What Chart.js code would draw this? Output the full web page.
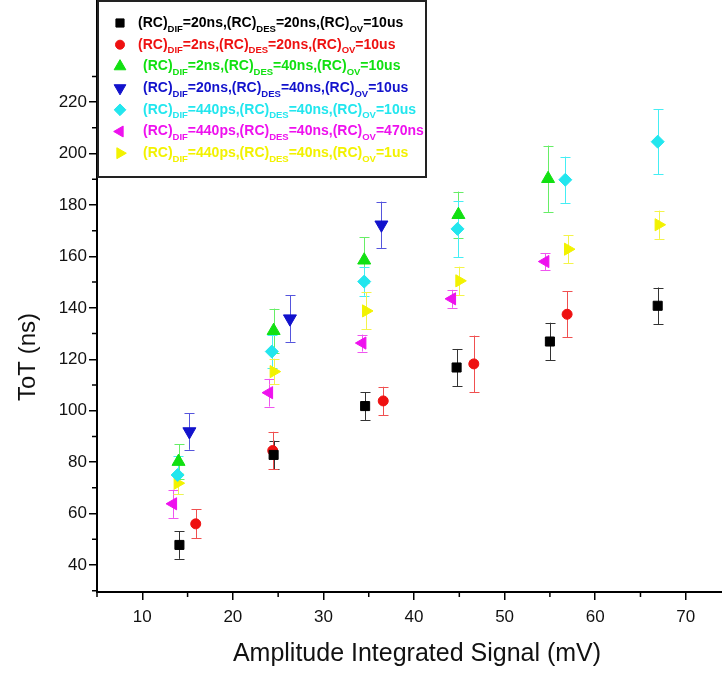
<!DOCTYPE html>
<html>
<head>
<meta charset="utf-8">
<script src="https://cdn.jsdelivr.net/npm/chart.js@4.4.1/dist/chart.umd.min.js"></script>
<style>
  html, body { margin: 0; padding: 0; background: #fff; }
  #wrap { width: 722px; height: 673px; }
</style>
</head>
<body>
<div id="wrap"><canvas id="myChart" width="722" height="673"></canvas></div>
<script>
// series data: x (mV), ToT (ns), error (+/- ns)
var blackX = [14.1, 24.5, 34.6, 44.7, 55.0, 66.9];
var blackY = [47.8, 82.8, 101.8, 116.8, 126.9, 140.8];
var blackErr = [5.4, 5.5, 5.4, 7.2, 7.3, 7.1];

var redX = [15.9, 24.4, 36.6, 46.6, 56.9];
var redY = [56.0, 84.5, 103.8, 118.2, 137.5];
var redErr = [5.6, 7.3, 5.5, 11.0, 9.0];

var greenX = [14.0, 24.5, 34.5, 44.9, 54.8];
var greenY = [80.2, 131.1, 158.5, 176.2, 190.2];
var greenErr = [6.8, 8.6, 9.0, 9.0, 12.9];

var blueX = [15.2, 26.3, 36.4];
var blueY = [91.9, 135.8, 172.3];
var blueErr = [7.1, 9.0, 9.0];

var cyanX = [13.9, 24.3, 34.5, 44.8, 56.7, 66.9];
var cyanY = [75.0, 123.0, 150.2, 170.7, 189.8, 204.6];
var cyanErr = [7.4, 6.5, 5.5, 11.0, 9.0, 12.6];

var magentaX = [13.4, 24.0, 34.3, 44.2, 54.5];
var magentaY = [63.8, 107.0, 126.3, 143.5, 158.0];
var magentaErr = [5.5, 5.4, 3.3, 3.5, 3.3];

var yellowX = [13.9, 24.5, 34.7, 45.0, 57.0, 67.0];
var yellowY = [71.8, 115.2, 138.8, 150.5, 162.8, 172.3];
var yellowErr = [4.0, 5.0, 7.2, 5.5, 5.5, 5.5];

// legend parameters
var rcDif = ['20ns', '2ns', '2ns', '20ns', '440ps', '440ps', '440ps'];
var rcDes = ['20ns', '20ns', '40ns', '40ns', '40ns', '40ns', '40ns'];
var rcOv = ['10us', '10us', '10us', '10us', '10us', '470ns', '1us'];

var xTicks = [10, 20, 30, 40, 50, 60, 70];
var xMinor = [5, 15, 25, 35, 45, 55, 65];
var yTicks = [40, 60, 80, 100, 120, 140, 160, 180, 200, 220];
var yMinor = [30, 50, 70, 90, 110, 130, 150, 170, 190, 210, 230];

var FONT = "'Liberation Sans', Arial, sans-serif";

function pts(xs, ys, es) {
    return xs.map(function (x, i) { return { x: x, y: ys[i], err: es[i] }; });
}

var series = [
    { x: blackX, y: blackY, e: blackErr, color: '#000000', bar: '#333333', style: 'rect', rot: 0, r: 6.4 },
    { x: redX, y: redY, e: redErr, color: '#ee1111', bar: '#f05050', style: 'circle', rot: 0, r: 5 },
    { x: greenX, y: greenY, e: greenErr, color: '#11e011', bar: '#66ee66', style: 'triangle', rot: 0, r: 7.5 },
    { x: blueX, y: blueY, e: blueErr, color: '#1212cc', bar: '#5555dd', style: 'triangle', rot: 180, r: 7.5 },
    { x: cyanX, y: cyanY, e: cyanErr, color: '#22e6ee', bar: '#44eef4', style: 'rectRot', rot: 0, r: 6.5 },
    { x: magentaX, y: magentaY, e: magentaErr, color: '#ee11ee', bar: '#f055f0', style: 'triangle', rot: -90, r: 7 },
    { x: yellowX, y: yellowY, e: yellowErr, color: '#f2f200', bar: '#f4f44a', style: 'triangle', rot: 90, r: 7 }
];

var datasets = series.map(function (s, i) {
    return {
        label: 'S' + (i + 1),
        data: pts(s.x, s.y, s.e),
        pointStyle: s.style,
        rotation: s.rot,
        pointRadius: s.r,
        pointHoverRadius: s.r,
        backgroundColor: s.color,
        borderColor: s.color,
        borderWidth: 1,
        showLine: false,
        errColor: s.bar
    };
});

// vertical error bars with caps, drawn through the scales
var errorBars = {
    id: 'errorBars',
    beforeDatasetsDraw: function (chart) {
        var ctx = chart.ctx, xs = chart.scales.x, ys = chart.scales.y;
        ctx.save();
        ctx.lineWidth = 1;
        chart.data.datasets.forEach(function (ds) {
            ctx.strokeStyle = ds.errColor;
            ds.data.forEach(function (p) {
                var px = Math.round(xs.getPixelForValue(p.x)) + 0.5;
                var top = ys.getPixelForValue(p.y + p.err);
                var bot = ys.getPixelForValue(p.y - p.err);
                ctx.beginPath();
                ctx.moveTo(px, top); ctx.lineTo(px, bot);
                ctx.moveTo(px - 5, Math.round(top) + 0.5); ctx.lineTo(px + 5, Math.round(top) + 0.5);
                ctx.moveTo(px - 5, Math.round(bot) + 0.5); ctx.lineTo(px + 5, Math.round(bot) + 0.5);
                ctx.stroke();
            });
        });
        ctx.restore();
    }
};

// short minor ticks and the axis titles
var axisExtras = {
    id: 'axisExtras',
    afterDraw: function (chart) {
        var ctx = chart.ctx, xs = chart.scales.x, ys = chart.scales.y, a = chart.chartArea;
        ctx.save();
        ctx.strokeStyle = '#000';
        ctx.lineWidth = 1.5;
        ctx.beginPath();
        xMinor.forEach(function (v) {
            var px = xs.getPixelForValue(v);
            ctx.moveTo(px, a.bottom); ctx.lineTo(px, a.bottom + 5);
        });
        yMinor.forEach(function (v) {
            var py = ys.getPixelForValue(v);
            ctx.moveTo(a.left, py); ctx.lineTo(a.left - 5, py);
        });
        ctx.stroke();

        ctx.fillStyle = '#111';
        ctx.textAlign = 'center';
        ctx.textBaseline = 'middle';
        ctx.font = '25px ' + FONT;
        ctx.fillText('Amplitude Integrated Signal (mV)', 417, 654);
        ctx.font = '24px ' + FONT;
        ctx.translate(28, 357);
        ctx.rotate(-Math.PI / 2);
        ctx.fillText('ToT (ns)', 0, 0);
        ctx.restore();
    }
};

// legend box with subscripts
var legendBox = {
    id: 'legendBox',
    afterDraw: function (chart) {
        var ctx = chart.ctx;
        ctx.save();
        ctx.fillStyle = '#fff';
        ctx.fillRect(98, 1, 328, 176);
        ctx.strokeStyle = '#222';
        ctx.lineWidth = 2;
        ctx.strokeRect(98, 1, 328, 176);
        ctx.textBaseline = 'middle';
        ctx.textAlign = 'left';
        series.forEach(function (s, i) {
            var y = 23 + i * 21.7;
            ctx.fillStyle = s.color;
            ctx.strokeStyle = s.color;
            ctx.lineWidth = 1;
            Chart.helpers.drawPoint(ctx, { pointStyle: s.style, rotation: s.rot, radius: s.r * 0.9, borderWidth: 1 }, 120, y);
            var parts = [
                ['(RC)', 0], ['DIF', 1], ['=' + rcDif[i] + ',(RC)', 0], ['DES', 1],
                ['=' + rcDes[i] + ',(RC)', 0], ['OV', 1], ['=' + rcOv[i], 0]
            ];
            var x = i < 2 ? 138 : 143;
            parts.forEach(function (p) {
                ctx.font = p[1] ? 'bold 9.5px ' + FONT : 'bold 14px ' + FONT;
                ctx.fillText(p[0], x, p[1] ? y + 6 : y);
                x += ctx.measureText(p[0]).width;
            });
        });
        ctx.restore();
    }
};

new Chart('myChart', {
    type: 'scatter',
    data: { datasets: datasets },
    options: {
        responsive: false,
        animation: false,
        devicePixelRatio: 1,
        layout: { padding: 0, autoPadding: false },
        plugins: { legend: { display: false }, tooltip: { enabled: false } },
        scales: {
            x: {
                type: 'linear',
                min: 5,
                max: 74,
                afterBuildTicks: function (scale) {
                    scale.ticks = xTicks.map(function (v) { return { value: v }; });
                },
                afterFit: function (scale) {
                    scale.height = 81;
                    scale.paddingLeft = 0;
                    scale.paddingRight = 0;
                },
                grid: { drawOnChartArea: false, drawTicks: true, tickLength: 8, color: '#000', lineWidth: 1.5 },
                border: { color: '#000', width: 2 },
                ticks: { color: '#111', font: { size: 17, family: FONT }, padding: 7, maxRotation: 0 }
            },
            y: {
                type: 'linear',
                min: 29.5,
                max: 259.7,
                afterBuildTicks: function (scale) {
                    scale.ticks = yTicks.map(function (v) { return { value: v }; });
                },
                afterFit: function (scale) {
                    scale.width = 97;
                    scale.paddingTop = 0;
                    scale.paddingBottom = 0;
                },
                grid: { drawOnChartArea: false, drawTicks: true, tickLength: 8, color: '#000', lineWidth: 1.5 },
                border: { color: '#000', width: 2 },
                ticks: { color: '#111', font: { size: 17, family: FONT }, padding: 2 }
            }
        }
    },
    plugins: [errorBars, axisExtras, legendBox]
});
</script>
</body>
</html>
